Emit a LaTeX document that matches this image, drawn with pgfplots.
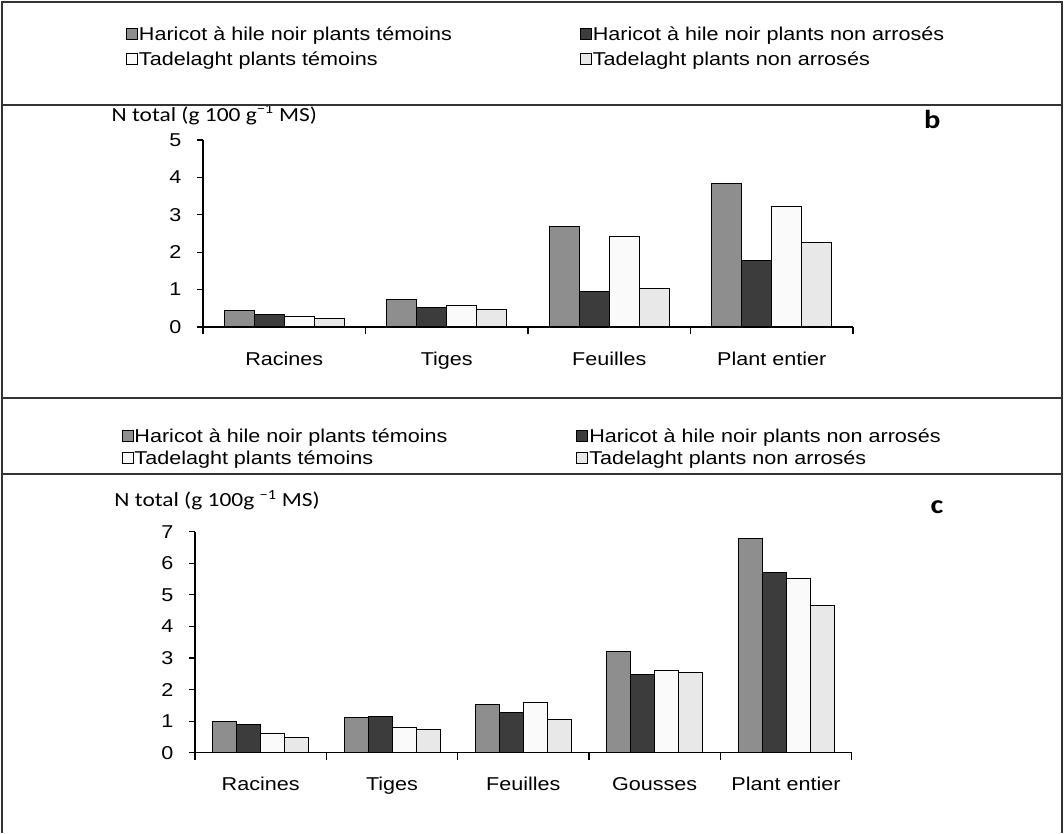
\documentclass[border=0pt]{standalone}
\usepackage{fontspec}
\usepackage{pgfplots}
\pgfplotsset{compat=1.18}
\newfontfamily\arlfont{Liberation Sans}[FakeStretch=1.16]
\newfontfamily\carfont{Carlito}[FakeStretch=1.17]
\newcommand\lfont{\arlfont\fontsize{18.6}{21}\selectfont}
\newcommand\yfont{\carfont\fontsize{20}{24}\selectfont}
\newcommand\bfont{\carfont\bfseries\fontsize{26}{30}\selectfont}
\definecolor{cA}{HTML}{8E8E8E}
\definecolor{cB}{HTML}{3C3C3C}
\definecolor{cC}{HTML}{FAFAFA}
\definecolor{cD}{HTML}{E8E8E8}
\begin{document}
\begin{tikzpicture}
\pgfplotsset{
 panel/.style={
  scale only axis, anchor=south west, clip=false,
  axis lines*=left, axis line style={line width=1.4pt, black},
  ybar=0pt, enlarge x limits=false, ymin=0,
  tick align=outside, major tick length=6pt, minor tick length=7pt,
  major x tick style={draw=none},
  minor x tick style={line width=1.2pt, black},
  ytick style={line width=1.2pt, black},
  /pgf/number format/assume math mode=true,
  ticklabel style={font=\lfont},
  yticklabel style={xshift=-12pt},
  xticklabel style={yshift=-15pt},
  every axis plot/.append style={draw=black, line width=1pt},
  legend columns=2,
  legend image code/.code={\draw[##1, line width=0.8pt] (0pt,-5.5pt) rectangle (11pt,5.5pt);},
  legend style={draw=none, fill=none, inner sep=0pt, font=\lfont,
    cells={anchor=west}, nodes={inner sep=1pt, text height=15pt, text depth=2pt}},
 }
}
% ---------- panel b ----------
\begin{axis}[panel,
  at={(203pt,506pt)}, width=650pt, height=187pt,
  xmin=-0.5, xmax=3.5, ymax=5, ytick={0,1,2,3,4,5},
  xtick={0,1,2,3}, xticklabels={Racines,Tiges,Feuilles,Plant entier},
  minor xtick={-0.5,0.5,1.5,2.5,3.5},
  bar width=30pt,
  ylabel={N total (g 100 g\textsuperscript{−1} MS)},
  every axis y label/.style={at={(axis description cs:-0.146,1.134)}, anchor=west, font=\yfont},
  legend style={at={(axis description cs:-0.1185,1.6166)}, anchor=north west, row sep=6pt,
    /tikz/every even column/.append style={column sep=127pt}},
]
\addplot[fill=cA] coordinates {(0,0.43) (1,0.73) (2,2.69) (3,3.83)};
\addplot[fill=cB] coordinates {(0,0.33) (1,0.53) (2,0.94) (3,1.78)};
\addplot[fill=cC] coordinates {(0,0.28) (1,0.58) (2,2.41) (3,3.23)};
\addplot[fill=cD] coordinates {(0,0.23) (1,0.47) (2,1.04) (3,2.27)};
\legend{Haricot à hile noir plants témoins, Haricot à hile noir plants non arrosés,
  Tadelaght plants témoins, Tadelaght plants non arrosés}
\node at (axis description cs:1.122,1.112) {\bfont b};
\end{axis}
% ---------- panel c ----------
\begin{axis}[panel,
  at={(195pt,80.3pt)}, width=656.7pt, height=221pt,
  xmin=-0.5, xmax=4.5, ymax=7, ytick={0,1,2,3,4,5,6,7},
  xtick={0,1,2,3,4}, xticklabels={Racines,Tiges,Feuilles,Gousses,Plant entier},
  minor xtick={-0.5,0.5,1.5,2.5,3.5,4.5},
  bar width=24pt,
  ylabel={N total (g 100g \textsuperscript{−1} MS)},
  every axis y label/.style={at={(axis description cs:-0.128,1.143)}, anchor=west, font=\yfont},
  legend style={at={(axis description cs:-0.112,1.478)}, anchor=north west, row sep=3pt,
    /tikz/every even column/.append style={column sep=128pt}},
]
\addplot[fill=cA] coordinates {(0,0.99) (1,1.12) (2,1.54) (3,3.21) (4,6.79)};
\addplot[fill=cB] coordinates {(0,0.88) (1,1.16) (2,1.26) (3,2.49) (4,5.71)};
\addplot[fill=cC] coordinates {(0,0.61) (1,0.79) (2,1.60) (3,2.61) (4,5.53)};
\addplot[fill=cD] coordinates {(0,0.48) (1,0.73) (2,1.05) (3,2.53) (4,4.67)};
\legend{Haricot à hile noir plants témoins, Haricot à hile noir plants non arrosés,
  Tadelaght plants témoins, Tadelaght plants non arrosés}
\node at (axis description cs:1.13,1.112) {\bfont c};
\end{axis}
% ---------- frame ----------
\begin{scope}[line width=1.5pt, draw=black!80]
\draw (2pt,0pt) -- (2pt,831pt) -- (1062pt,831pt) -- (1062pt,0pt);
\draw (2pt,728pt) -- (1062pt,728pt);
\draw (2pt,435pt) -- (1062pt,435pt);
\draw (2pt,359pt) -- (1062pt,359pt);
\end{scope}
\pgfresetboundingbox
\path (0pt,0pt) rectangle (1064pt,833pt);
\end{tikzpicture}
\end{document}
